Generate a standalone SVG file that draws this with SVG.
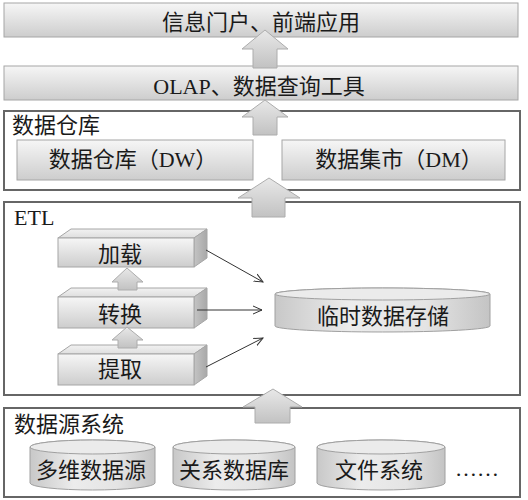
<svg xmlns="http://www.w3.org/2000/svg" width="528" height="500" viewBox="0 0 528 500">
<defs>
<linearGradient id="gBox" x1="0" y1="0" x2="0" y2="1">
<stop offset="0" stop-color="#f6f6f6"/><stop offset="1" stop-color="#cdcdcd"/>
</linearGradient>
<linearGradient id="gTop" x1="0" y1="0" x2="0" y2="1">
<stop offset="0" stop-color="#f2f2f2"/><stop offset="1" stop-color="#dedede"/>
</linearGradient>
<linearGradient id="gSide" x1="0" y1="0" x2="1" y2="0">
<stop offset="0" stop-color="#c4c4c4"/><stop offset="1" stop-color="#a8a8a8"/>
</linearGradient>
<linearGradient id="gCyl" x1="0" y1="0" x2="1" y2="0">
<stop offset="0" stop-color="#c8c8c8"/><stop offset="0.35" stop-color="#ececec"/><stop offset="0.7" stop-color="#e4e4e4"/><stop offset="1" stop-color="#c4c4c4"/>
</linearGradient>
<linearGradient id="gArr" x1="0" y1="0" x2="0" y2="1">
<stop offset="0" stop-color="#e8e8e8"/><stop offset="1" stop-color="#c2c2c2"/>
</linearGradient>
<marker id="ah" markerWidth="10" markerHeight="10" refX="9" refY="5" orient="auto" markerUnits="userSpaceOnUse">
<path d="M0,1 L9,5 L0,9" fill="none" stroke="#333" stroke-width="1"/>
</marker>
</defs>
<style>
text{font-family:"Liberation Serif","Noto Sans CJK SC",serif;font-size:22px;fill:#1a1a1a}
.mid{text-anchor:middle}
.box{fill:url(#gBox);stroke:#a6a6a6;stroke-width:1}
.cont{fill:#fff;stroke:#666;stroke-width:2}
.top{fill:url(#gTop);stroke:#a6a6a6;stroke-width:1}
.side{fill:url(#gSide);stroke:#a6a6a6;stroke-width:1}
.cyl{fill:url(#gCyl);stroke:#a0a0a0;stroke-width:1}
.cylt{fill:#ebebeb;stroke:#a0a0a0;stroke-width:1}
.arr{fill:url(#gArr);stroke:#acacac;stroke-width:1;stroke-linejoin:round}
.ln{stroke:#333;stroke-width:1;fill:none}
</style>
<rect width="528" height="500" fill="#fff"/>

<g id="portal">
<rect class="box" x="4" y="3" width="514" height="34"/>
<text class="mid" x="261" y="30">信息门户、前端应用</text>
</g>
<g id="olap">
<rect class="box" x="4" y="66" width="514" height="34"/>
<text class="mid" x="259" y="94">OLAP、数据查询工具</text>
</g>

<g id="dwlayer">
<rect class="cont" x="4" y="111" width="516" height="79"/>
<text x="12" y="133">数据仓库</text>
</g>
<g id="dw">
<rect class="box" x="17" y="140" width="236" height="40"/>
<text class="mid" x="133" y="167">数据仓库（DW）</text>
</g>
<g id="dm">
<rect class="box" x="282" y="140" width="223" height="40"/>
<text class="mid" x="399" y="167">数据集市（DM）</text>
</g>

<g id="etllayer">
<rect class="cont" x="4" y="202" width="516" height="193"/>
<text x="14" y="225">ETL</text>
</g>
<g id="load">
<polygon class="top" points="58,238 71,229 207,229 194,238"/>
<polygon class="side" points="194,238 207,229 207,258 194,267"/>
<rect class="box" x="58" y="238" width="136" height="29"/>
<text class="mid" x="120" y="262">加载</text>
</g>
<g id="transform">
<polygon class="top" points="58,297 71,288 207,288 194,297"/>
<polygon class="side" points="194,297 207,288 207,319 194,328"/>
<rect class="box" x="58" y="297" width="136" height="31"/>
<text class="mid" x="120" y="322">转换</text>
</g>
<g id="extract">
<polygon class="top" points="58,354 71,345 207,345 194,354"/>
<polygon class="side" points="194,354 207,345 207,376 194,385"/>
<rect class="box" x="58" y="354" width="136" height="31"/>
<text class="mid" x="120" y="377">提取</text>
</g>
<g id="staging">
<path class="cyl" d="M275,294 A107.5,6 0 0 1 490,294 V326 A107.5,6 0 0 1 275,326 Z"/>
<ellipse class="cylt" cx="382.5" cy="294" rx="107.5" ry="6"/>
<text class="mid" x="383" y="324">临时数据存储</text>
</g>

<g id="srclayer">
<rect class="cont" x="4" y="408" width="516" height="89"/>
<text x="14" y="432">数据源系统</text>
</g>
<g id="src1">
<path class="cyl" d="M30,447 A62.5,7 0 0 1 155,447 V483 A62.5,7 0 0 1 30,483 Z"/>
<ellipse class="cylt" cx="92.5" cy="447" rx="62.5" ry="7"/>
<text class="mid" x="91" y="478">多维数据源</text>
</g>
<g id="src2">
<path class="cyl" d="M173,447 A61,7 0 0 1 295,447 V483 A61,7 0 0 1 173,483 Z"/>
<ellipse class="cylt" cx="234" cy="447" rx="61" ry="7"/>
<text class="mid" x="234" y="478">关系数据库</text>
</g>
<g id="src3">
<path class="cyl" d="M317,447 A64,7 0 0 1 445,447 V483 A64,7 0 0 1 317,483 Z"/>
<ellipse class="cylt" cx="381" cy="447" rx="64" ry="7"/>
<text class="mid" x="379" y="478">文件系统</text>
</g>
<g id="more">
<text class="mid" x="477" y="476">……</text>
</g>

<g id="connectors">
<path class="arr" d="M265,30 L288,49 L277,49 L277,68 L253,68 L253,49 L242,49 Z"/>
<path class="arr" d="M265,100 L288,117 L277,117 L277,135 L253,135 L253,117 L242,117 Z"/>
<path class="arr" d="M269,178 L300,198 L285,198 L285,217 L252,217 L252,198 L238,198 Z"/>
<path class="arr" d="M273,389 L302,407 L290,407 L290,423 L255,423 L255,407 L243,407 Z"/>
<path class="arr" d="M127,268 L143,282 L137,282 L137,290 L118,290 L118,282 L112,282 Z"/>
<path class="arr" d="M127,327 L143,340 L137,340 L137,348 L118,348 L118,340 L112,340 Z"/>
<line class="ln" x1="206" y1="250" x2="263" y2="282" marker-end="url(#ah)"/>
<line class="ln" x1="197" y1="310" x2="262" y2="310" marker-end="url(#ah)"/>
<line class="ln" x1="206" y1="367" x2="263" y2="338" marker-end="url(#ah)"/>
</g>
</svg>
